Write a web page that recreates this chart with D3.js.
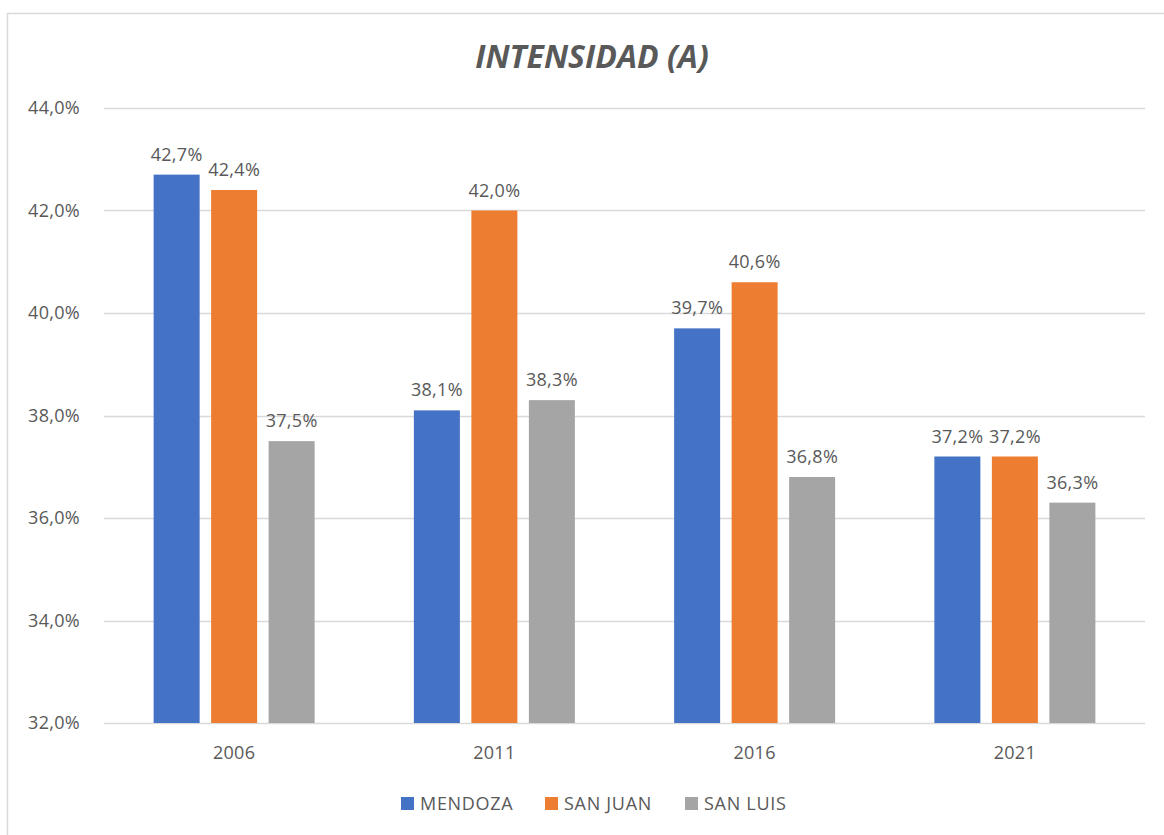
<!DOCTYPE html>
<meta charset="utf-8">
<style>
body {
  margin: 0;
  background: #fff;
}
text {
  font-family: "Open Sans", sans-serif;
  fill: #595959;
}
</style>
<body>
<script src="https://cdn.jsdelivr.net/npm/d3@7/dist/d3.min.js"></script>
<script>

var width = 1164,
    height = 835;

var years = ["2006", "2011", "2016", "2021"];
var seriesNames = ["MENDOZA", "SAN JUAN", "SAN LUIS"];
var colors = ["#4472c4", "#ed7d31", "#a5a5a5"];
var mendoza = [42.7, 38.1, 39.7, 37.2];
var sanJuan = [42.4, 42.0, 40.6, 37.2];
var sanLuis = [37.5, 38.3, 36.8, 36.3];
var yTicks = [32, 34, 36, 38, 40, 42, 44];

var series = [mendoza, sanJuan, sanLuis];

var margin = {left: 104, right: 19, top: 108, bottom: 112};

var svg = d3.select("body").append("svg")
    .attr("width", width)
    .attr("height", height);

// chart border
svg.append("rect")
    .attr("x", 7.5)
    .attr("y", 13.5)
    .attr("width", width)
    .attr("height", height)
    .attr("fill", "none")
    .attr("stroke", "#d9d9d9")
    .attr("stroke-width", 1.5);

var x = d3.scaleBand()
    .domain(years)
    .range([margin.left, width - margin.right]);

var y = d3.scaleLinear()
    .domain([32, 44])
    .range([height - margin.bottom, margin.top]);

var barW = 46, step = 57.5;

var fmt = function(v) { return d3.format(".1f")(v).replace(".", ",") + "%"; };

// gridlines
svg.append("g").selectAll("line")
    .data(yTicks)
  .enter().append("line")
    .attr("x1", margin.left)
    .attr("x2", width - margin.right)
    .attr("y1", function(d) { return Math.round(y(d)) + 0.5; })
    .attr("y2", function(d) { return Math.round(y(d)) + 0.5; })
    .attr("stroke", "#d9d9d9")
    .attr("stroke-width", 1.5);

// y tick labels
svg.append("g").selectAll("text")
    .data(yTicks)
  .enter().append("text")
    .attr("x", 80)
    .attr("y", function(d) { return y(d); })
    .attr("dy", "0.35em")
    .attr("text-anchor", "end")
    .style("font-size", "18px")
    .style("letter-spacing", "0.3px")
    .text(function(d) { return fmt(d); });

// bars
series.forEach(function(vals, s) {
  var g = svg.append("g");
  var bx = function(d, i) {
    return x(years[i]) + x.bandwidth() / 2 - barW / 2 + (s - 1) * step;
  };
  g.selectAll("rect")
      .data(vals)
    .enter().append("rect")
      .attr("x", bx)
      .attr("y", function(d) { return y(d); })
      .attr("width", barW)
      .attr("height", function(d) { return y(32) - y(d); })
      .attr("fill", colors[s]);
  g.selectAll("text")
      .data(vals)
    .enter().append("text")
      .attr("x", function(d, i) { return bx(d, i) + barW / 2; })
      .attr("y", function(d) { return y(d) - 14; })
      .attr("text-anchor", "middle")
      .style("font-size", "18px")
      .style("letter-spacing", "0.3px")
      .text(function(d) { return fmt(d); });
});

// x labels
svg.append("g").selectAll("text")
    .data(years)
  .enter().append("text")
    .attr("x", function(d) { return x(d) + x.bandwidth() / 2; })
    .attr("y", 759)
    .attr("text-anchor", "middle")
    .style("font-size", "18px")
    .style("letter-spacing", "0.3px")
    .text(function(d) { return d; });

// title
svg.append("text")
    .attr("x", 592)
    .attr("y", 68)
    .attr("text-anchor", "middle")
    .style("font-size", "32px")
    .style("font-weight", "bold")
    .style("font-style", "italic")
    .text("INTENSIDAD (A)");

// legend
var legendX = [401, 545, 685];
var legend = svg.append("g").selectAll("g")
    .data(seriesNames)
  .enter().append("g")
    .attr("transform", function(d, i) { return "translate(" + legendX[i] + ",797)"; });
legend.append("rect")
    .attr("width", 13)
    .attr("height", 13)
    .attr("fill", function(d, i) { return colors[i]; });
legend.append("text")
    .attr("x", 19)
    .attr("y", 7)
    .attr("dy", "0.35em")
    .style("font-size", "18px")
    .style("letter-spacing", "0.7px")
    .text(function(d) { return d; });

</script>
